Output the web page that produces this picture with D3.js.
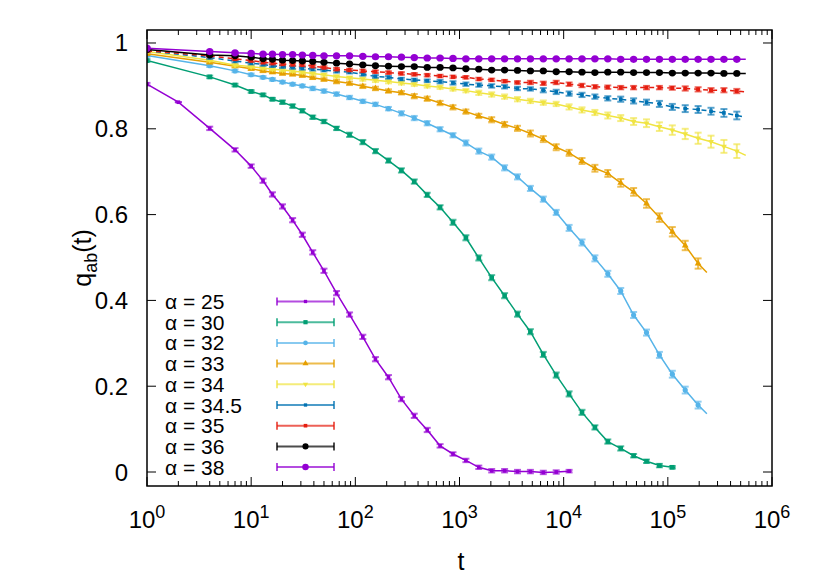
<!DOCTYPE html>
<html>
<head>
<meta charset="utf-8">
<script src="https://cdn.jsdelivr.net/npm/d3@7"></script>
<style>
  html, body { margin: 0; padding: 0; background: #fff; }
  svg { display: block; }
  text { font-family: "Liberation Sans", Arial, sans-serif; fill: #000; }
</style>
</head>
<body>
<svg id="chart" width="830" height="581"></svg>
<script>
// ---- data ----
const times = [1, 2, 4, 7, 10, 13, 16, 20, 25, 31, 39, 50, 66, 88, 118, 156, 208, 277, 368, 490,
  651, 866, 1152, 1532, 2037, 2710, 3604, 4793, 6375, 8479, 11277, 14998, 19948, 26531, 35286,
  46930, 62417, 83015, 110410, 146846, 195305, 259756, 345476, 459483];

const alphaLabels = ["α = 25", "α = 30", "α = 32", "α = 33", "α = 34", "α = 34.5", "α = 35", "α = 36", "α = 38"];
const colors = ["#9400d3", "#009e73", "#56b4e9", "#e69f00", "#f0e442", "#0072b2", "#e51e10", "#000000", "#9400d3"];

const q25 = [0.904, 0.862, 0.801, 0.751, 0.713, 0.679, 0.647, 0.619, 0.587, 0.553, 0.512, 0.469, 0.417, 0.367, 0.315,
  0.263, 0.221, 0.170, 0.131, 0.098, 0.061, 0.042, 0.027, 0.011, 0.003, 0.003, 0.001, 0.001, -0.001, 0.000, 0.002];
const q30 = [0.959, null, 0.921, 0.902, 0.887, 0.879, 0.869, 0.862, 0.853, 0.842, 0.827, 0.817, 0.801, 0.786, 0.769,
  0.748, 0.726, 0.703, 0.677, 0.646, 0.617, 0.582, 0.546, 0.499, 0.453, 0.411, 0.368, 0.327, 0.274, 0.226,
  0.182, 0.139, 0.104, 0.071, 0.055, 0.038, 0.025, 0.015, 0.011];
const q32 = [0.971, null, 0.947, 0.935, 0.926, 0.920, 0.915, 0.909, 0.904, 0.900, 0.894, 0.888, 0.881, 0.873, 0.864,
  0.857, 0.847, 0.836, 0.825, 0.813, 0.799, 0.785, 0.767, 0.748, 0.734, 0.709, 0.688, 0.661, 0.636, 0.605,
  0.569, 0.535, 0.498, 0.462, 0.422, 0.366, 0.325, 0.273, 0.228, 0.191, 0.156];
const q33 = [0.975, null, 0.955, 0.946, 0.940, 0.935, 0.932, 0.929, 0.927, 0.924, 0.919, 0.915, 0.910, 0.906, 0.899,
  0.894, 0.888, 0.884, 0.876, 0.870, 0.860, 0.850, 0.840, 0.830, 0.821, 0.810, 0.801, 0.789, 0.776, 0.757,
  0.744, 0.725, 0.708, 0.696, 0.674, 0.653, 0.626, 0.593, 0.560, 0.528, 0.486];
const q34 = [0.980, null, 0.960, 0.948, 0.945, 0.942, 0.939, 0.937, 0.935, 0.932, 0.929, 0.926, 0.922, 0.919, 0.916,
  0.913, 0.910, 0.907, 0.904, 0.900, 0.897, 0.893, 0.889, 0.884, 0.880, 0.875, 0.869, 0.865, 0.861, 0.858,
  0.851, 0.844, 0.838, 0.831, 0.825, 0.817, 0.813, 0.805, 0.797, 0.788, 0.778, 0.770, 0.759, 0.748];
const q345 = [0.982, null, 0.966, 0.958, 0.953, 0.950, 0.947, 0.945, 0.943, 0.941, 0.939, 0.937, 0.934, 0.932, 0.927,
  0.922, 0.920, 0.916, 0.914, 0.912, 0.910, 0.907, 0.904, 0.902, 0.900, 0.898, 0.894, 0.893, 0.890, 0.886,
  0.882, 0.879, 0.875, 0.871, 0.869, 0.865, 0.862, 0.858, 0.851, 0.847, 0.845, 0.841, 0.837, 0.831];
const q35 = [0.982, null, 0.970, 0.963, 0.959, 0.955, 0.953, 0.951, 0.950, 0.949, 0.946, 0.943, 0.939, 0.937, 0.935,
  0.933, 0.931, 0.929, 0.927, 0.925, 0.923, 0.921, 0.920, 0.916, 0.914, 0.911, 0.908, 0.908, 0.906, 0.908,
  0.904, 0.901, 0.898, 0.897, 0.896, 0.896, 0.896, 0.896, 0.895, 0.894, 0.892, 0.890, 0.890, 0.888];
const q36 = [0.985, null, 0.972, 0.970, 0.967, 0.963, 0.962, 0.960, 0.959, 0.958, 0.957, 0.955, 0.953, 0.951, 0.949,
  0.947, 0.946, 0.945, 0.945, 0.943, 0.943, 0.942, 0.940, 0.939, 0.937, 0.937, 0.936, 0.935, 0.935, 0.933,
  0.933, 0.932, 0.931, 0.932, 0.932, 0.931, 0.931, 0.931, 0.930, 0.930, 0.930, 0.930, 0.929, 0.929];
const q38 = [0.988, null, 0.980, 0.977, 0.976, 0.974, 0.974, 0.973, 0.973, 0.972, 0.971, 0.970, 0.970, 0.970, 0.969,
  0.968, 0.968, 0.967, 0.966, 0.965, 0.965, 0.964, 0.963, 0.963, 0.963, 0.963, 0.963, 0.963, 0.963, 0.963,
  0.963, 0.963, 0.963, 0.963, 0.962, 0.962, 0.962, 0.962, 0.962, 0.962, 0.962, 0.962, 0.962, 0.962];

const e25 = [0.003, null, 0.004, 0.004, 0.004, 0.005, 0.005, 0.005, 0.005, 0.005, 0.005, 0.005, 0.005, 0.005, 0.005,
  0.005, 0.005, 0.005, 0.005, 0.005, 0.004, 0.004, 0.004, 0.004, 0.004, 0.004, 0.004, 0.004, 0.004, 0.004, 0.003];
const e30 = [0.003, null, 0.003, 0.003, 0.003, 0.003, 0.003, 0.004, 0.004, 0.004, 0.004, 0.004, 0.004, 0.005, 0.005,
  0.005, 0.005, 0.005, 0.005, 0.005, 0.005, 0.006, 0.006, 0.006, 0.006, 0.006, 0.006, 0.006, 0.006, 0.006,
  0.006, 0.006, 0.005, 0.005, 0.005, 0.004, 0.004, 0.004, 0.003];
const e32 = [0.003, null, 0.003, 0.003, 0.003, 0.003, 0.003, 0.003, 0.003, 0.003, 0.004, 0.004, 0.004, 0.004, 0.004,
  0.004, 0.004, 0.005, 0.005, 0.005, 0.005, 0.005, 0.006, 0.006, 0.006, 0.006, 0.006, 0.006, 0.006, 0.006,
  0.007, 0.007, 0.007, 0.007, 0.007, 0.007, 0.007, 0.007, 0.008, 0.008, 0.008];
const e33 = [0.003, null, 0.003, 0.003, 0.003, 0.003, 0.003, 0.003, 0.003, 0.003, 0.003, 0.003, 0.004, 0.004, 0.004,
  0.004, 0.004, 0.004, 0.005, 0.005, 0.005, 0.005, 0.005, 0.005, 0.006, 0.006, 0.006, 0.007, 0.007, 0.007,
  0.007, 0.007, 0.008, 0.008, 0.009, 0.009, 0.010, 0.010, 0.011, 0.011, 0.012];
const e34 = [0.003, null, 0.003, 0.003, 0.003, 0.003, 0.003, 0.003, 0.003, 0.003, 0.003, 0.003, 0.003, 0.003, 0.004,
  0.004, 0.004, 0.004, 0.004, 0.004, 0.004, 0.004, 0.004, 0.005, 0.005, 0.005, 0.005, 0.005, 0.005, 0.005,
  0.006, 0.006, 0.006, 0.007, 0.007, 0.008, 0.009, 0.010, 0.011, 0.012, 0.013, 0.014, 0.015, 0.016];
const e345 = [0.003, null, 0.003, 0.003, 0.003, 0.003, 0.003, 0.003, 0.003, 0.003, 0.003, 0.003, 0.003, 0.003, 0.003,
  0.003, 0.003, 0.003, 0.003, 0.003, 0.004, 0.004, 0.004, 0.004, 0.004, 0.004, 0.004, 0.004, 0.005, 0.005,
  0.005, 0.005, 0.005, 0.005, 0.006, 0.006, 0.006, 0.007, 0.007, 0.008, 0.008, 0.008, 0.009, 0.009];
const e35 = [0.003, null, 0.003, 0.003, 0.003, 0.003, 0.003, 0.003, 0.003, 0.003, 0.003, 0.003, 0.003, 0.003, 0.003,
  0.003, 0.003, 0.003, 0.003, 0.003, 0.003, 0.003, 0.003, 0.003, 0.003, 0.003, 0.003, 0.004, 0.004, 0.004,
  0.004, 0.004, 0.004, 0.004, 0.004, 0.004, 0.004, 0.004, 0.004, 0.005, 0.005, 0.005, 0.005, 0.005];
const e36 = [0.002, null, 0.002, 0.002, 0.002, 0.002, 0.002, 0.002, 0.002, 0.002, 0.002, 0.002, 0.002, 0.002, 0.002,
  0.002, 0.002, 0.002, 0.002, 0.002, 0.002, 0.002, 0.002, 0.002, 0.002, 0.002, 0.002, 0.002, 0.002, 0.002,
  0.002, 0.002, 0.002, 0.002, 0.002, 0.002, 0.002, 0.002, 0.002, 0.002, 0.002, 0.002, 0.002, 0.002];
const e38 = [0.002, null, 0.002, 0.002, 0.002, 0.002, 0.002, 0.002, 0.002, 0.002, 0.002, 0.002, 0.002, 0.002, 0.002,
  0.002, 0.002, 0.002, 0.002, 0.002, 0.002, 0.002, 0.002, 0.002, 0.002, 0.002, 0.002, 0.002, 0.002, 0.002,
  0.002, 0.002, 0.002, 0.002, 0.002, 0.002, 0.002, 0.002, 0.002, 0.002, 0.002, 0.002, 0.002, 0.002];

// line-only end points (curves run slightly past their last marker)
const lineEndT = [11900, 118000, 237000, 237000, 560000, 560000, 560000, 560000, 560000];
const lineEndQ = [0.002, 0.010, 0.136, 0.465, 0.738, 0.827, 0.886, 0.929, 0.962];

const xTickExps = [0, 1, 2, 3, 4, 5, 6];
const yTicks = [0, 0.2, 0.4, 0.6, 0.8, 1];
const yTickLabels = ["0", "0.2", "0.4", "0.6", "0.8", "1"];

const qSeries = [q25, q30, q32, q33, q34, q345, q35, q36, q38];
const eSeries = [e25, e30, e32, e33, e34, e345, e35, e36, e38];
const dashed = [false, false, false, false, false, true, true, false, false];
const markerKind = ["square", "square", "circle", "triangle", "triangleDown", "square", "square", "circle", "circle"];
const markerSize = [2.2, 2.8, 2.6, 3.0, 2.6, 2.2, 2.4, 3.4, 3.6];

// ---- layout ----
const L = 147, R = 772, T = 30, B = 486;
const svg = d3.select("#chart");
const x = d3.scaleLog().domain([1, 1e6]).range([L, R]);
const y = d3.scaleLinear().domain([-0.0326, 1.0303]).range([B, T]);

svg.append("clipPath").attr("id", "clip").append("rect")
  .attr("x", L).attr("y", T).attr("width", R - L).attr("height", B - T);

// ---- axes / ticks (gnuplot style: inward, mirrored) ----
const axes = svg.append("g");
const tickG = axes.append("g").attr("stroke", "#000").attr("stroke-width", 1);
const major = 9, minor = 5;
xTickExps.forEach(k => {
  const xv = x(Math.pow(10, k));
  tickG.append("line").attr("x1", xv).attr("x2", xv).attr("y1", B).attr("y2", B - major);
  tickG.append("line").attr("x1", xv).attr("x2", xv).attr("y1", T).attr("y2", T + major);
  if (k < 6) {
    for (let m = 2; m <= 9; m++) {
      const xm = x(m * Math.pow(10, k));
      tickG.append("line").attr("x1", xm).attr("x2", xm).attr("y1", B).attr("y2", B - minor);
      tickG.append("line").attr("x1", xm).attr("x2", xm).attr("y1", T).attr("y2", T + minor);
    }
  }
  const lab = axes.append("text").attr("x", xv).attr("y", 528)
    .attr("text-anchor", "middle").style("font-size", "24px");
  lab.append("tspan").text("10");
  lab.append("tspan").attr("dy", -10).style("font-size", "18px").text(String(k));
});
yTicks.forEach((v, i) => {
  const yv = y(v);
  tickG.append("line").attr("x1", L).attr("x2", L + major).attr("y1", yv).attr("y2", yv);
  tickG.append("line").attr("x1", R).attr("x2", R - major).attr("y1", yv).attr("y2", yv);
  axes.append("text").attr("x", 128).attr("y", yv + 8.5).attr("text-anchor", "end")
    .style("font-size", "24px").text(yTickLabels[i]);
});

// axis titles
axes.append("text").attr("x", 461).attr("y", 570).attr("text-anchor", "middle")
  .style("font-size", "25px").text("t");
const yt = axes.append("text").attr("transform", "translate(91,258) rotate(-90)")
  .attr("text-anchor", "middle").style("font-size", "25px");
yt.append("tspan").text("q");
yt.append("tspan").attr("dy", 6).style("font-size", "18px").text("ab");
yt.append("tspan").attr("dy", -6).text("(t)");

// ---- series ----
const plot = svg.append("g").attr("clip-path", "url(#clip)");
function symbolPath(kind, s) {
  if (kind === "circle") return d3.symbol(d3.symbolCircle, Math.PI * s * s)();
  if (kind === "triangle" || kind === "triangleDown") return d3.symbol(d3.symbolTriangle, s * s * 2.2)();
  return d3.symbol(d3.symbolSquare, (2 * s) * (2 * s) * 0.7)();
}
const capW = 3.5;
const lineGen = d3.line().x(d => x(d.t)).y(d => y(d.q));

qSeries.forEach((qs, si) => {
  const pts = [];
  qs.forEach((q, i) => { if (q !== null) pts.push({ t: times[i], q: q, e: eSeries[si][i] }); });
  const linePts = pts.concat([{ t: lineEndT[si], q: lineEndQ[si] }]);
  const g = plot.append("g");
  g.append("path").attr("d", lineGen(linePts)).attr("fill", "none")
    .attr("stroke", colors[si]).attr("stroke-width", 1.5)
    .attr("stroke-dasharray", dashed[si] ? "5,4" : null);
  const eg = g.append("g").attr("stroke", colors[si]).attr("stroke-width", 2).attr("stroke-opacity", 0.65);
  pts.forEach(p => {
    const xp = x(p.t), y1 = y(p.q - p.e), y2 = y(p.q + p.e);
    eg.append("line").attr("x1", xp).attr("x2", xp).attr("y1", y1).attr("y2", y2);
    eg.append("line").attr("x1", xp - capW).attr("x2", xp + capW).attr("y1", y1).attr("y2", y1);
    eg.append("line").attr("x1", xp - capW).attr("x2", xp + capW).attr("y1", y2).attr("y2", y2);
  });
  pts.forEach(p => {
    g.append("path").attr("d", symbolPath(markerKind[si], markerSize[si]))
      .attr("transform", `translate(${x(p.t)},${y(p.q)})` + (markerKind[si] === "triangleDown" ? " rotate(180)" : ""))
      .attr("fill", colors[si]);
  });
});

// ---- legend ----
const leg = svg.append("g");
alphaLabels.forEach((lab, i) => {
  const ry = 301.5 + i * 20.7;
  leg.append("text").attr("x", 165).attr("y", ry + 7.5).style("font-size", "21px").text(lab);
  const lg = leg.append("g").attr("stroke", colors[i]).attr("stroke-width", 2).attr("stroke-opacity", 0.7);
  lg.append("line").attr("x1", 277).attr("x2", 334).attr("y1", ry).attr("y2", ry);
  lg.append("line").attr("x1", 277).attr("x2", 277).attr("y1", ry - 4).attr("y2", ry + 4);
  lg.append("line").attr("x1", 334).attr("x2", 334).attr("y1", ry - 4).attr("y2", ry + 4);
  leg.append("path").attr("d", symbolPath(markerKind[i], markerSize[i] * 0.9))
    .attr("transform", `translate(305.5,${ry})` + (markerKind[i] === "triangleDown" ? " rotate(180)" : ""))
    .attr("fill", colors[i]);
});

// frame
svg.append("rect").attr("x", L).attr("y", T).attr("width", R - L).attr("height", B - T)
  .attr("fill", "none").attr("stroke", "#000").attr("stroke-width", 1.5);
</script>
</body>
</html>
